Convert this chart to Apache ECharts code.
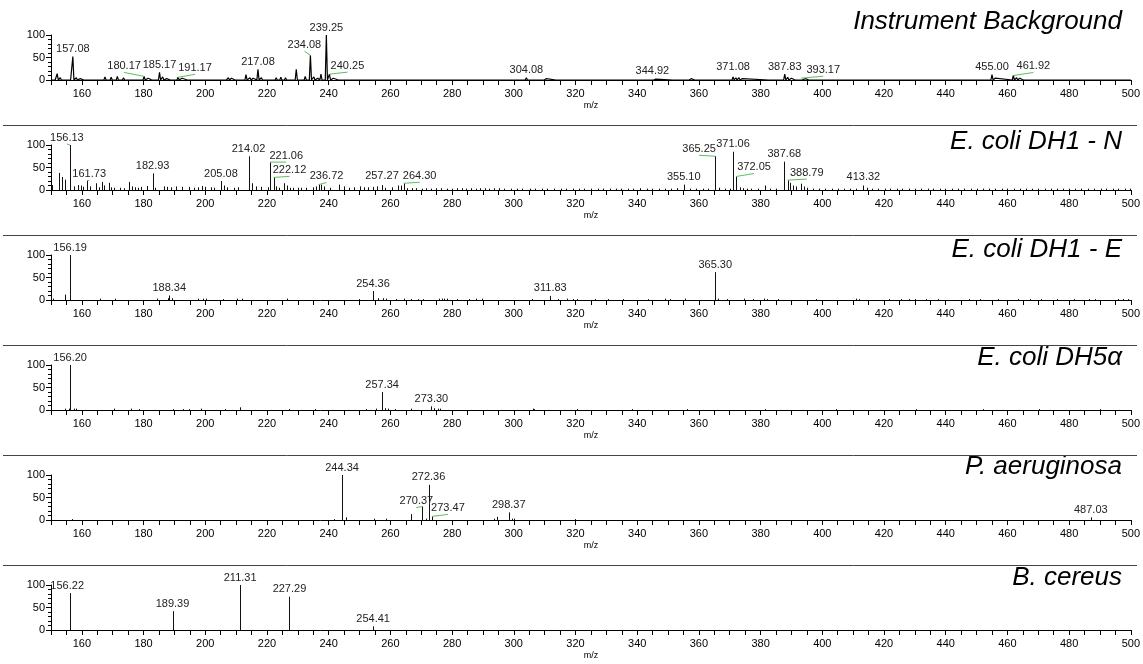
<!DOCTYPE html>
<html><head><meta charset="utf-8">
<script src="https://cdn.jsdelivr.net/npm/echarts/dist/echarts.min.js"></script>
<style>html,body{margin:0;padding:0;background:#fff}#c{width:1143px;height:664px}</style>
</head><body><div id="c"></div>
<script>
// ---------- DATA ----------
const panelTitles = ['Instrument Background', 'E. coli DH1 - N', 'E. coli DH1 - E', 'E. coli DH5\u03b1', 'P. aeruginosa', 'B. cereus'];
const xMin = 150, xMax = 500;
const yTicks = [0, 50, 100];

// Instrument background (profile spectrum): [m/z, relative intensity]
const bgPeaks = [[151.0,4],[152.0,14],[153.0,5],[154.5,3],[156.0,4],[157.08,52],[158.2,5],[159.5,3],[161.0,3],[162.5,4],[164.0,4],[165.5,3],[167.5,7],[169.5,6],[171.5,8],[173.5,5],[175.0,3],[176.5,4],[178.0,3],[180.17,8],[181.5,4],[183.0,3],[185.17,17],[186.2,7],[187.5,3],[189.0,3],[191.17,6],[192.5,4],[194.5,3],[196.0,3],[199.5,4],[201.0,2],[204.0,2],[206.5,4],[207.5,5],[208.5,4],[210.0,3],[213.2,12],[214.5,5],[215.5,4],[217.08,24],[218.2,5],[220.0,3],[223.0,5],[224.5,6],[226.0,5],[227.5,3],[229.5,24],[231.0,4],[232.4,8],[234.08,55],[235.2,7],[236.5,4],[237.5,13],[239.25,100],[240.25,13],[241.5,4],[243.5,3],[246.0,4],[250.0,2],[253.0,2],[256.0,3],[258.0,2],[262.0,3],[264.0,2],[267.0,2],[270.0,2],[275.0,2],[278.0,2],[282.0,2],[287.0,2],[291.0,2],[300.0,3],[301.5,4],[304.08,5],[305.0,3],[307.0,3],[309.5,4],[310.5,3],[314.0,2],[316.0,2],[331.0,3],[336.0,2],[338.0,2],[344.92,4],[346.0,2],[352.0,2],[353.5,3],[355.0,3],[356.5,4],[357.5,3],[359.0,2],[371.08,7],[372.0,5],[373.0,5],[374.0,3],[383.0,2],[385.0,2],[387.83,13],[388.8,6],[390.0,4],[391.5,4],[393.17,4],[394.5,3],[396.0,2],[400.5,2],[407.0,2],[413.5,3],[429.0,2],[441.0,2],[446.0,2],[450.0,2],[453.0,4],[455.00,12],[456.0,4],[461.92,10],[463.0,5],[464.0,4],[465.5,3],[467.0,2]];
const bgLabels = [157.08,180.17,185.17,191.17,217.08,234.08,239.25,240.25,304.08,344.92,371.08,387.83,393.17,455.00,461.92];

// E. coli DH1 - N (stick spectrum)
const dh1nPeaks = [[150.2,11],[152.6,38],[153.6,29],[154.5,23],[156.13,100],[157.5,8],[158.8,11],[159.6,10],[160.5,7],[161.73,21],[162.6,8],[164.5,15],[165.4,6],[166.4,18],[167.3,10],[168.7,16],[169.5,6],[170.4,5],[172.5,5],[173.8,4],[175.2,18],[176.3,8],[177.1,6],[178.3,5],[179.1,7],[181.2,9],[182.93,37],[183.8,5],[186.6,8],[187.7,7],[189.0,6],[190.6,8],[192.5,7],[194.7,7],[196.3,5],[197.7,6],[199.0,9],[199.8,7],[201.8,6],[202.8,5],[205.08,20],[206.0,10],[207.1,6],[209.2,5],[210.6,6],[214.02,75],[215.3,15],[216.4,8],[218.0,7],[220.2,6],[221.06,62],[222.12,28],[223.0,8],[224.0,5],[225.4,15],[226.4,10],[227.5,5],[228.5,5],[229.9,5],[231.0,5],[232.8,5],[235.0,6],[236.0,8],[236.72,12],[237.6,12],[238.4,8],[240.5,5],[243.5,12],[244.9,8],[246.5,5],[248.1,6],[250.2,8],[251.3,6],[252.9,6],[254.5,7],[255.6,8],[257.27,11],[258.3,5],[260.4,6],[262.5,10],[263.3,10],[264.30,15],[265.5,4],[267.1,4],[268.4,4],[270.2,3],[271.5,4],[273.1,3],[274.8,4],[276.5,4],[278.2,3],[279.9,3],[281.5,4],[283.1,4],[284.4,3],[286.0,4],[287.6,3],[289.0,4],[290.7,4],[292.1,3],[293.5,4],[295.2,4],[296.9,3],[299.1,3],[301.0,3],[302.8,3],[305.1,3],[306.9,3],[309.2,3],[310.9,3],[313.1,3],[315.2,3],[316.8,3],[319.1,3],[321.2,3],[322.9,3],[325.1,3],[327.2,3],[328.8,3],[331.1,3],[333.0,3],[334.9,3],[337.1,3],[338.8,3],[341.0,4],[343.1,3],[344.8,3],[347.2,3],[349.1,3],[350.9,3],[353.0,4],[355.10,12],[357.1,3],[358.9,3],[361.2,3],[363.0,3],[365.25,75],[366.5,5],[368.5,3],[370.0,3],[371.06,85],[372.05,30],[373.2,6],[374.3,4],[375.5,3],[377.0,3],[379.1,3],[381.5,10],[383.0,3],[385.1,3],[387.68,63],[388.79,22],[389.6,16],[390.5,10],[391.5,8],[393.2,14],[394.0,8],[395.0,5],[397.1,3],[398.9,3],[401.0,3],[403.2,3],[405.0,3],[407.1,3],[408.9,3],[411.0,3],[413.32,10],[414.5,5],[416.1,3],[418.0,3],[420.2,3],[422.0,3],[424.1,3],[425.9,3],[428.0,3],[430.1,3],[432.0,3],[434.2,3],[436.0,3],[438.1,3],[439.9,3],[442.0,3],[444.1,3],[446.0,3],[448.2,3],[450.0,3],[452.1,3],[453.9,3],[456.0,3],[458.1,3],[460.0,3],[462.2,3],[464.0,3],[466.1,3],[467.9,3],[470.0,3],[472.1,3],[474.0,3],[476.2,3],[478.0,3],[480.1,3],[481.9,3],[484.0,3],[486.1,3],[488.0,3],[490.2,3],[492.0,3],[494.1,3],[495.9,3],[498.0,3],[499.6,3]];
const dh1nLabels = [156.13,161.73,182.93,205.08,214.02,221.06,222.12,236.72,257.27,264.30,355.10,365.25,371.06,372.05,387.68,388.79,413.32];

// E. coli DH1 - E
const dh1ePeaks = [[150.5,3],[154.6,12],[156.19,100],[165.8,3],[170.6,3],[184.3,3],[187.8,4],[188.34,10],[189.2,4],[197.5,3],[199.4,3],[200.3,3],[205.8,2],[210.4,3],[211.8,3],[226.6,3],[249.7,2],[254.36,20],[255.9,4],[257.6,4],[258.6,3],[261.7,2],[264.4,3],[266.8,2],[269.1,2],[270.6,2],[275.9,3],[276.6,3],[277.3,3],[278.5,3],[281.5,2],[285.6,2],[287.8,3],[289.8,3],[305.9,2],[311.83,9],[314.4,2],[317.4,3],[319.2,2],[320.5,2],[326.4,2],[330.5,2],[335.5,2],[343.5,2],[349.0,3],[350.5,2],[355.5,3],[365.30,62],[366.2,3],[369.2,2],[374.7,3],[377.6,2],[381.0,3],[382.0,2],[385.5,2],[398.0,2],[411.0,3],[411.8,2],[421.5,2],[425.5,2],[428.0,2],[430.2,2],[433.5,2],[437.5,2],[447.5,2],[451.2,2],[456.8,2],[463.5,2],[467.4,2],[470.8,2],[476.2,2],[481.5,2],[486.3,2],[488.5,2],[495.7,2],[497.5,2],[499.0,2]];
const dh1eLabels = [156.19,188.34,254.36,311.83,365.30];

// E. coli DH5alpha
const dh5aPeaks = [[154.5,3],[155.8,3],[156.20,100],[157.4,3],[158.0,3],[170.5,3],[176.0,3],[178.5,2],[189.5,2],[192.8,2],[194.6,2],[198.5,3],[206.5,2],[211.2,6],[227.2,2],[235.7,2],[252.0,2],[255.5,3],[257.34,40],[258.2,4],[259.3,3],[261.5,2],[266.6,3],[273.30,8],[274.3,4],[275.3,3],[276.0,3],[306.2,3],[306.6,2],[320.4,2],[338.2,2],[356.1,2],[381.3,2],[404.6,2],[430.5,2],[452.2,2],[470.3,2],[490.1,2]];
const dh5aLabels = [156.20,257.34,273.30];

// P. aeruginosa
const paPeaks = [[156.7,2],[241.8,2],[244.34,100],[245.5,6],[254.6,3],[258.7,3],[266.6,13],[270.37,30],[271.6,3],[272.36,78],[273.47,8],[293.5,3],[294.6,7],[298.37,17],[299.5,3],[300.2,3],[320.0,2],[487.03,6]];
const paLabels = [244.34,270.37,272.36,273.47,298.37,487.03];

// B. cereus
const bcPeaks = [[156.22,82],[189.39,42],[211.31,100],[227.29,74],[254.41,8]];
const bcLabels = [156.22,189.39,211.31,227.29,254.41];

// ---------- STYLE (label offsets in px, title placement) ----------
const labelOffsets = [
  {'180.17':[-20,-3],'191.17':[17,-2],'234.08':[-6,-3],'240.25':[18,-1],'393.17':[22,-1],'461.92':[20,-2],'371.08':[0,-2]},
  {'156.13':[-3,0],'161.73':[2,1],'221.06':[16,1],'222.12':[16,0],'236.72':[8,-1],'257.27':[0,-2],'264.30':[16,0],'365.25':[-16,0],'372.05':[18,-2],'388.79':[19,0],'413.32':[0,-1]},
  {}, {},
  {'270.37':[-6,2],'273.47':[16,-1]},
  {'156.22':[-3,0]}
];
const leaderKeys = [
  ['180.17','191.17','234.08','240.25','393.17','461.92'],
  ['156.13','161.73','221.06','222.12','236.72','264.30','365.25','372.05','388.79'],
  [],[],['270.37','273.47'],[]
];
const titleY = [22, 142, 250, 358, 467, 578];
const panelTop = 35, panelH = 45, panelStep = 110;
const FONT = '"Liberation Sans", Arial, sans-serif';

const panels = [
  {peaks: bgPeaks, labels: bgLabels, profile: true},
  {peaks: dh1nPeaks, labels: dh1nLabels},
  {peaks: dh1ePeaks, labels: dh1eLabels},
  {peaks: dh5aPeaks, labels: dh5aLabels},
  {peaks: paPeaks, labels: paLabels},
  {peaks: bcPeaks, labels: bcLabels}
];

const grids = [], xAxes = [], yAxes = [], series = [], graphics = [];
panels.forEach((p, i) => {
  grids.push({left: 51, right: 10, top: panelTop + panelStep * i, height: panelH});
  xAxes.push({
    type: 'value', gridIndex: i, min: xMin, max: xMax, interval: 5,
    axisLine: {onZero: false, lineStyle: {color: '#000', width: 1}},
    axisTick: {length: 5, lineStyle: {color: '#000'}},
    axisLabel: {fontSize: 11, color: '#000', margin: 8, fontFamily: FONT,
      formatter: v => (v % 20 === 0 && v > xMin) ? String(v) : ''},
    splitLine: {show: false},
    name: 'm/z', nameLocation: 'middle', nameGap: 21,
    nameTextStyle: {fontSize: 9, color: '#000', fontFamily: FONT}
  });
  yAxes.push({
    type: 'value', gridIndex: i, min: yTicks[0], max: yTicks[yTicks.length - 1], interval: yTicks[1] - yTicks[0],
    axisLine: {show: true, lineStyle: {color: '#000', width: 1}},
    axisTick: {show: true, length: 5, lineStyle: {color: '#000'}},
    minorTick: {show: true, splitNumber: 5, length: 3, lineStyle: {color: '#000'}},
    splitLine: {show: false},
    axisLabel: {fontSize: 11, color: '#000', margin: 6, fontFamily: FONT}
  });
  if (p.profile) {
    const pts = [[xMin, 0]];
    p.peaks.forEach(([m, h]) => { pts.push([m - 0.35, 0], [m, h], [m + 0.35, 0]); });
    pts.push([xMax, 0]);
    series.push({type: 'line', xAxisIndex: i, yAxisIndex: i, data: pts, showSymbol: false,
      lineStyle: {color: '#000', width: 1.2}, animation: false, silent: true});
  } else {
    series.push({
      type: 'custom', xAxisIndex: i, yAxisIndex: i, data: p.peaks, animation: false, silent: true,
      renderItem(params, api) {
        const x = api.value(0), y = api.value(1);
        const p0 = api.coord([x, 0]), p1 = api.coord([x, y]);
        const px = Math.round(p0[0]) + 0.5;
        return {type: 'line', shape: {x1: px, y1: p0[1], x2: px, y2: p1[1]},
          style: {stroke: '#111', lineWidth: 1}};
      }
    });
  }
  const offs = labelOffsets[i], leaders = leaderKeys[i];
  const lblData = p.labels.map(m => {
    const pk = p.peaks.find(q => Math.abs(q[0] - m) < 1e-6);
    return [m, pk ? pk[1] : 0];
  });
  series.push({
    type: 'custom', xAxisIndex: i, yAxisIndex: i, data: lblData, animation: false, silent: true, z: 5,
    renderItem(params, api) {
      const m = api.value(0), h = api.value(1);
      const pt = api.coord([m, h]);
      const key = m.toFixed(2);
      const o = offs[key] || [0, 0];
      const tx = pt[0] + o[0], ty = pt[1] - 2 + o[1];
      const children = [];
      if (leaders.indexOf(key) >= 0) {
        children.push({type: 'line', shape: {x1: pt[0], y1: pt[1], x2: tx, y2: ty + 1},
          style: {stroke: '#5cbf5c', lineWidth: 1}});
      }
      children.push({type: 'text', style: {text: key, x: tx, y: ty, align: 'center', verticalAlign: 'bottom',
        fontSize: 11, fontFamily: FONT, fill: '#222'}});
      return {type: 'group', children};
    }
  });
  graphics.push({type: 'text', x: 1122, y: titleY[i], silent: true,
    style: {text: panelTitles[i], align: 'right', verticalAlign: 'middle',
      font: 'italic 26px ' + FONT, fill: '#000'}});
  if (i > 0) {
    const sy = panelTop + panelStep * i - 20 + 0.5;
    graphics.push({type: 'line', silent: true, shape: {x1: 3, y1: sy, x2: 1137, y2: sy},
      style: {stroke: '#444', lineWidth: 1}});
  }
});

const chart = echarts.init(document.getElementById('c'), null, {renderer: 'canvas'});
chart.setOption({
  animation: false,
  backgroundColor: '#fff',
  grid: grids, xAxis: xAxes, yAxis: yAxes, series: series, graphic: graphics
});
</script></body></html>
